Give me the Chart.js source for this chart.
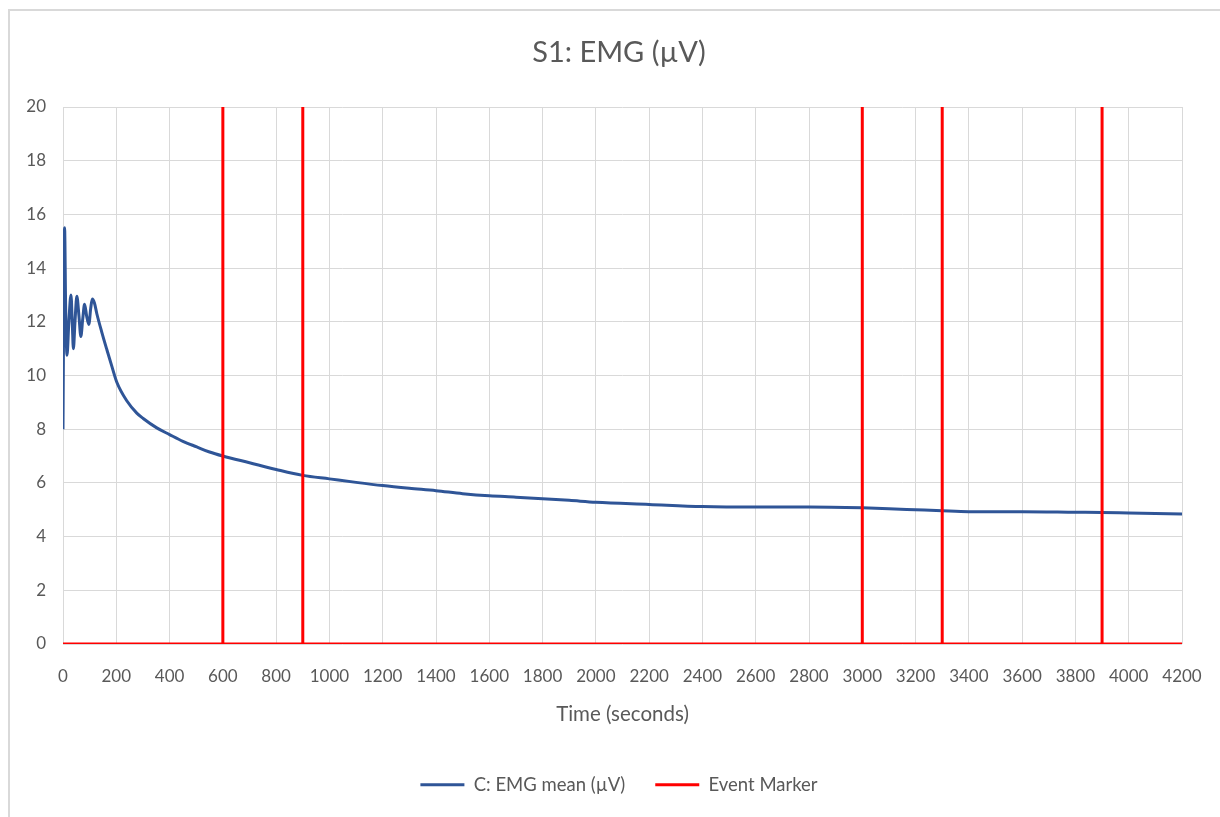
<!DOCTYPE html>
<html>
<head>
<meta charset="utf-8">
<script src="https://cdn.jsdelivr.net/npm/chart.js@4"></script>
<style>
  html, body { margin: 0; padding: 0; background: #ffffff; }
  #wrap { position: relative; width: 1220px; height: 817px; overflow: hidden; }
  #frame { position: absolute; left: 8px; top: 9px; width: 1230px; height: 830px;
           border-top: 2px solid #d9d9d9; border-left: 2px solid #d9d9d9; }
  canvas { position: absolute; left: 0; top: 0; }
</style>
</head>
<body>
<div id="wrap">
  <div id="frame"></div>
  <canvas id="c" width="1220" height="817"></canvas>
</div>
<script>
// ---- data ----
const chartTitle = 'S1: EMG (µV)';
const xAxisTitle = 'Time (seconds)';
const emgLabel = 'C: EMG mean (µV)';
const markerLabel = 'Event Marker';

const emgTimes = [0, 2, 6, 10, 15, 22, 30, 35, 39, 45, 52, 60, 67, 74, 81, 89, 97, 104, 110, 118, 127,
  146, 165, 184, 202, 240, 277, 301, 352, 400, 450, 502, 550, 600, 700, 800, 900, 1000, 1100, 1200,
  1300, 1400, 1500, 1600, 1700, 1800, 1900, 2000, 2200, 2400, 2600, 2800, 3000, 3100, 3200, 3300,
  3400, 3600, 3800, 3900, 4000, 4200];
const emgValues = [8.0, 11.5, 15.5, 12.5, 10.75, 12.0, 13.0, 11.9, 11.0, 12.0, 12.95, 12.2, 11.45, 12.1,
  12.65, 12.2, 11.9, 12.5, 12.85, 12.7, 12.3, 11.6, 10.95, 10.32, 9.75, 9.05, 8.6, 8.4, 8.05, 7.8,
  7.55, 7.34, 7.15, 7.0, 6.75, 6.5, 6.28, 6.15, 6.02, 5.9, 5.8, 5.71, 5.6, 5.52, 5.47, 5.41, 5.35,
  5.28, 5.2, 5.12, 5.1, 5.1, 5.07, 5.04, 5.0, 4.96, 4.93, 4.93, 4.91, 4.9, 4.88, 4.84];

const markerTimes = [0, 600, 600, 600, 900, 900, 900, 3000, 3000, 3000, 3300, 3300, 3300, 3900, 3900, 3900, 4200];
const markerValues = [0, 0, 20, 0, 0, 20, 0, 0, 20, 0, 0, 20, 0, 0, 20, 0, 0];

const xMin = 0, xMax = 4200, xStep = 200;
const yMin = 0, yMax = 20, yStep = 2;

// ---- styling ----
const FONT = 'Lato, "Open Sans", sans-serif';
const TEXT = '#595959';
const GRID = '#d9d9d9';
const BLUE = '#2F5597';
const RED = '#FF0000';

const emgPoints = emgTimes.map((t, i) => ({ x: t, y: emgValues[i] }));
const markerPoints = markerTimes.map((t, i) => ({ x: t, y: markerValues[i] }));

const defaultLabels = Chart.defaults.plugins.legend.labels.generateLabels;

new Chart(document.getElementById('c'), {
  type: 'line',
  data: {
    datasets: [
      { label: emgLabel, data: emgPoints, borderColor: BLUE, backgroundColor: BLUE,
        borderWidth: 3, pointRadius: 0, cubicInterpolationMode: 'monotone', order: 2 },
      { label: markerLabel, data: markerPoints, borderColor: RED, backgroundColor: RED,
        borderWidth: 3, pointRadius: 0, tension: 0, order: 1 }
    ]
  },
  options: {
    responsive: false,
    animation: false,
    events: [],
    layout: { padding: { left: 18, right: 0, top: 0, bottom: 13 } },
    plugins: {
      tooltip: { enabled: false },
      title: { display: true, text: chartTitle, color: TEXT,
        font: { family: FONT, size: 29, weight: 'normal' },
        padding: { top: 35.6, bottom: 36.6 } },
      legend: { position: 'bottom',
        labels: { color: TEXT, font: { family: FONT, size: 18.5 }, boxWidth: 44, boxHeight: 3,
          padding: 30,
          sort: (a, b) => a.datasetIndex - b.datasetIndex,
          generateLabels: (chart) => defaultLabels(chart).map(l => Object.assign(l, { lineWidth: 0 })) } }
    },
    scales: {
      x: { type: 'linear', min: xMin, max: xMax,
        grid: { color: GRID, lineWidth: 1, drawTicks: true, tickLength: 20, tickColor: 'rgba(0,0,0,0)' },
        border: { display: false },
        ticks: { stepSize: xStep, color: TEXT, font: { family: FONT, size: 17 }, padding: 2,
          maxRotation: 0, autoSkip: false, callback: (v) => String(v) },
        title: { display: true, text: xAxisTitle, color: TEXT, font: { family: FONT, size: 20.5 },
          padding: { top: 0, bottom: 18.5 } },
        afterFit: (s) => { s.height = 101.5; } },
      y: { type: 'linear', min: yMin, max: yMax, position: 'left',
        grid: { color: GRID, lineWidth: 1, drawTicks: false },
        border: { display: false },
        ticks: { stepSize: yStep, color: TEXT, font: { family: FONT, size: 17 }, padding: 17,
          callback: (v) => String(v) },
        afterFit: (s) => { s.width = 45; } },
      yRight: { type: 'linear', min: yMin, max: yMax, position: 'right',
        grid: { display: false, drawOnChartArea: false }, border: { display: false },
        ticks: { display: false },
        afterFit: (s) => { s.width = 38; } }
    }
  }
});
</script>
</body>
</html>
